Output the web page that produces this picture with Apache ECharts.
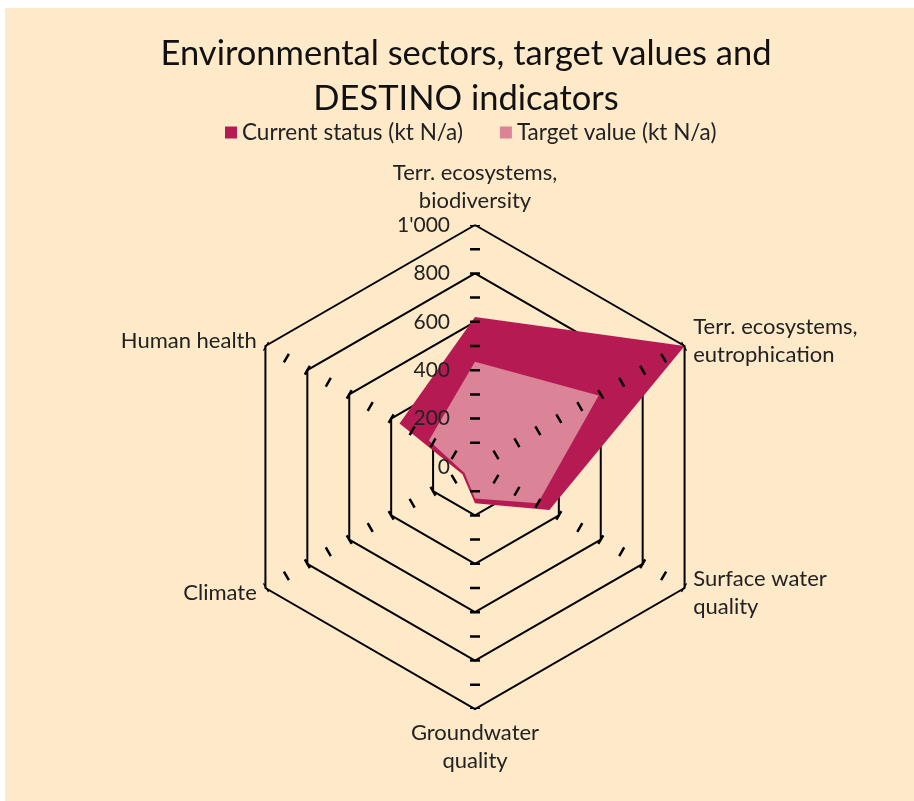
<!DOCTYPE html>
<html><head><meta charset="utf-8">
<script src="https://cdn.jsdelivr.net/npm/echarts@6/dist/echarts.min.js"></script>
<style>html,body{margin:0;padding:0;background:#fff;} #c{position:absolute;left:5px;top:8px;width:909px;height:793px;background:#FEE9C9;}</style>
</head><body><div id="c"></div>
<script>
// Data (Excel order: clockwise from top)
const categories = ['Terr. ecosystems,\nbiodiversity', 'Terr. ecosystems,\neutrophication', 'Surface water\nquality', 'Groundwater\nquality', 'Climate', 'Human health'];
const currentStatus = [620, 1000, 355, 150, 60, 360];
const targetValue = [435, 590, 300, 130, 50, 220];
const seriesNames = ['Current status (kt N/a)', 'Target value (kt N/a)'];
const tickLabels = ['0', '200', '400', '600', '800', "1'000"];
const axisMax = 1000;

// ECharts places indicators counter-clockwise; reorder to keep Excel's clockwise layout
const ecOrder = [0, 5, 4, 3, 2, 1];
const reorder = arr => ecOrder.map(i => arr[i]);

const FONT = 'Lato';
const center = [470, 459];
const radius = 242;

// dash pattern giving short cross ticks every 1/10 of the axis (skipping the centre)
const step = radius / 10, tickW = 2.5;
const dash = [0, step - tickW / 2];
for (let k = 0; k < 10; k++) dash.push(tickW, step - tickW);

const indicators = reorder(categories).map(n => ({ name: n, min: 0, max: axisMax }));
const indicators2 = reorder(categories).map((n, i) => ({
  name: n, min: 0, max: axisMax,
  axisLabel: { show: i === 0 }
}));

const chart = echarts.init(document.getElementById('c'));
chart.setOption({
  backgroundColor: '#FEE9C9',
  animation: false,
  title: {
    text: 'Environmental sectors, target values and\nDESTINO indicators',
    left: 456, top: 18, textAlign: 'center',
    textStyle: { fontFamily: FONT, fontSize: 34.5, fontWeight: 'normal', color: '#111', lineHeight: 45 }
  },
  legend: {
    top: 108, left: 215, itemGap: 37,
    icon: 'rect', itemWidth: 12, itemHeight: 12,
    textStyle: { fontFamily: FONT, fontSize: 22.5, color: '#222' },
    data: seriesNames
  },
  radar: [{
    center: center, radius: radius, shape: 'polygon', splitNumber: 5, z: 0,
    indicator: indicators,
    axisName: { color: '#222', fontFamily: FONT, fontSize: 22, lineHeight: 28 },
    nameGap: 10,
    splitLine: { show: true, lineStyle: { color: '#000', width: 2 } },
    splitArea: { show: false },
    axisLine: { show: false },
    axisTick: { show: false },
    axisLabel: { show: false }
  }, {
    center: center, radius: radius, shape: 'polygon', splitNumber: 5, z: 10,
    indicator: indicators2,
    axisName: { show: false },
    splitLine: { show: false },
    splitArea: { show: false },
    axisTick: { show: false },
    axisLabel: {
      show: false, margin: 25, color: '#222', fontFamily: FONT, fontSize: 21,
      formatter: v => tickLabels[Math.round(v / 200)]
    },
    axisLine: { show: true, lineStyle: { color: '#000', width: 10, type: dash, dashOffset: 0, cap: 'butt' } }
  }],
  series: [{
    type: 'radar', radarIndex: 0, symbol: 'none',
    data: [
      { name: seriesNames[0], value: reorder(currentStatus),
        itemStyle: { color: '#B51A52' }, lineStyle: { width: 0, color: '#B51A52' }, areaStyle: { color: '#B51A52', opacity: 1 } },
      { name: seriesNames[1], value: reorder(targetValue),
        itemStyle: { color: '#DB8498' }, lineStyle: { width: 0, color: '#DB8498' }, areaStyle: { color: '#DB8498', opacity: 1 } }
    ]
  }]
});
</script></body></html>
